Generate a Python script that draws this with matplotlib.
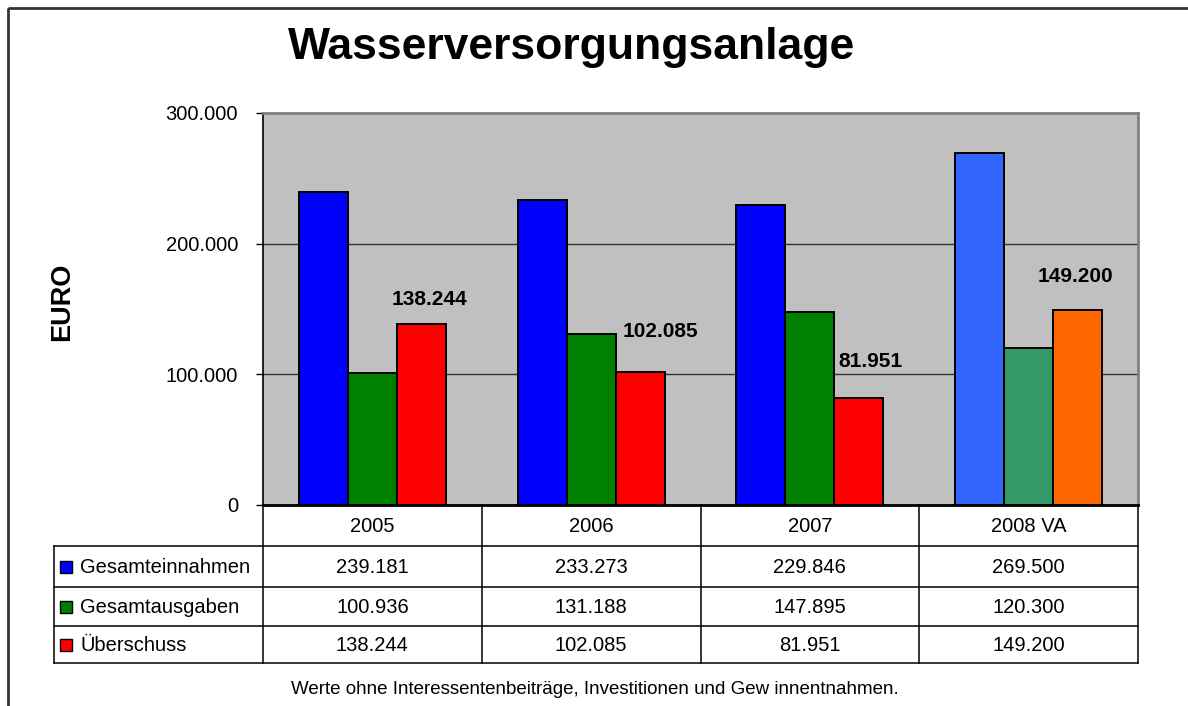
import matplotlib.pyplot as plt
from matplotlib.patches import Rectangle

plt.rcParams['font.family'] = ['Liberation Sans', 'DejaVu Sans']

years = ['2005', '2006', '2007', '2008 VA']
series = ['Gesamteinnahmen', 'Gesamtausgaben', 'Überschuss']
einnahmen = [239181, 233273, 229846, 269500]
ausgaben = [100936, 131188, 147895, 120300]
ueberschuss = [138244, 102085, 81951, 149200]
values = [einnahmen, ausgaben, ueberschuss]

colors = ['#0000FF', '#008000', '#FF0000']
colors_2008 = ['#3366FF', '#339966', '#FF6600']
# manuell verschobene Datenbeschriftungen (Pixel)
label_offsets = [(8, 25), (20, 40), (12, 36), (-2, 34)]

W, H = 1188, 706


def fmt(v):
    return f'{v:,}'.replace(',', '.')


fig = plt.figure(figsize=(W / 100, H / 100), dpi=100)

# Diagrammbereich in Pixelkoordinaten
x0, x1, ytop, ybot = 263, 1138, 113, 505
ax = fig.add_axes([x0 / W, 1 - ybot / H, (x1 - x0) / W, (ybot - ytop) / H])
ax.set_facecolor('#C0C0C0')

bw = 49 / ((x1 - x0) / 4)
for j in range(3):
    for i in range(4):
        c = colors_2008[j] if i == 3 else colors[j]
        ax.bar(i + (j - 1) * bw, values[j][i], bw, color=c,
               edgecolor='black', linewidth=1.4, zorder=3)

for i, v in enumerate(ueberschuss):
    dx, dy = label_offsets[i]
    ax.annotate(fmt(v), (i + bw, v), xytext=(dx, dy), textcoords='offset pixels',
                ha='center', va='center', fontsize=15, fontweight='bold', zorder=4)

ax.set_xlim(-0.5, 3.5)
ax.set_ylim(0, 300000)
ax.set_yticks([0, 100000, 200000, 300000])
ax.set_yticklabels([fmt(t) for t in [0, 100000, 200000, 300000]], fontsize=14.5)
ax.set_xticks([])
ax.tick_params(axis='y', length=5, width=1, pad=13, color='black')
ax.yaxis.grid(True, color='#333333', linewidth=1, zorder=1)
ax.set_axisbelow(True)
ax.spines['top'].set_color('#808080')
ax.spines['right'].set_color('#808080')
ax.spines['top'].set_linewidth(2)
ax.spines['right'].set_linewidth(2)
ax.spines['left'].set_linewidth(1.2)
ax.spines['bottom'].set_linewidth(2)

# Overlay fuer Rahmen, Tabelle und Texte
ov = fig.add_axes([0, 0, 1, 1], zorder=-1)
ov.set_xlim(0, W)
ov.set_ylim(H, 0)
ov.axis('off')
ov2 = fig.add_axes([0, 0, 1, 1], zorder=5)
ov2.set_xlim(0, W)
ov2.set_ylim(H, 0)
ov2.axis('off')
ov2.patch.set_alpha(0)

ov.add_patch(Rectangle((8, 8), W + 20, H + 20, fill=False, edgecolor='#333333', linewidth=2))

ov2.text(572, 48, 'Wasserversorgungsanlage', fontsize=32, fontweight='bold',
         ha='center', va='center')
ov2.text(62, 302, 'EURO', fontsize=19.5, fontweight='bold', rotation=90,
         ha='center', va='center')
ov2.text(595, 690, 'Werte ohne Interessentenbeiträge, Investitionen und Gew innentnahmen.',
         fontsize=13.5, ha='center', va='center')

# Datentabelle
lx = 54
cols = [x0 + k * (x1 - x0) / 4 for k in range(5)]
rows = [505, 546, 587, 626, 663]
lk = dict(color='black', linewidth=1.1)
for cx in cols:
    ov2.plot([cx, cx], [rows[0], rows[-1]], **lk)
ov2.plot([lx, lx], [rows[1], rows[-1]], **lk)
for ry in rows[1:]:
    ov2.plot([lx, x1], [ry, ry], **lk)

for i, y in enumerate(years):
    ov2.text((cols[i] + cols[i + 1]) / 2, (rows[0] + rows[1]) / 2 + 1, y,
             fontsize=14.5, ha='center', va='center')

for j, name in enumerate(series):
    yc = (rows[j + 1] + rows[j + 2]) / 2
    ov2.add_patch(Rectangle((60, yc - 6), 12, 12, facecolor=colors[j],
                            edgecolor='black', linewidth=1))
    ov2.text(80, yc + 1, name, fontsize=14.5, ha='left', va='center')
    for i in range(4):
        ov2.text((cols[i] + cols[i + 1]) / 2, yc + 1, fmt(values[j][i]),
                 fontsize=14.5, ha='center', va='center')

plt.savefig('out.png', dpi=100)
